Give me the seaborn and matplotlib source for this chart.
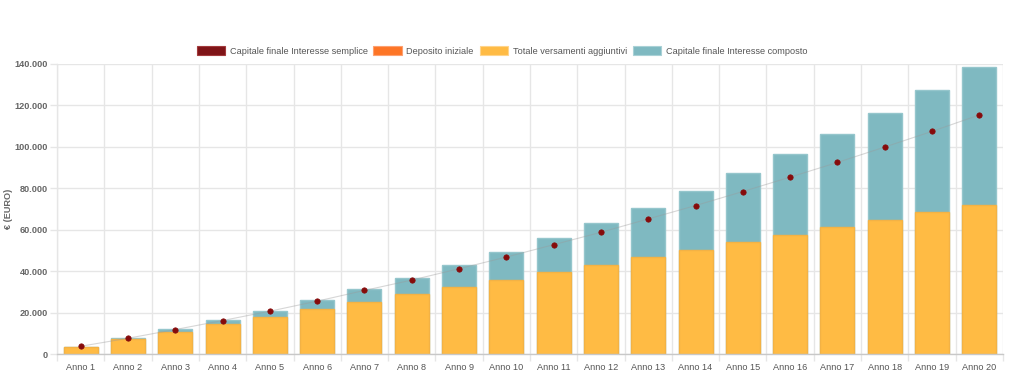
import matplotlib
matplotlib.use("Agg")
import matplotlib.pyplot as plt
from matplotlib.patches import Patch
from matplotlib.ticker import FuncFormatter
import numpy as np
import pandas as pd
import seaborn as sns

# ---- data ----
anni = ["Anno 1", "Anno 2", "Anno 3", "Anno 4", "Anno 5", "Anno 6", "Anno 7",
        "Anno 8", "Anno 9", "Anno 10", "Anno 11", "Anno 12", "Anno 13", "Anno 14",
        "Anno 15", "Anno 16", "Anno 17", "Anno 18", "Anno 19", "Anno 20"]
deposito_iniziale = [0, 0, 0, 0, 0, 0, 0, 0, 0, 0, 0, 0, 0, 0, 0, 0, 0, 0, 0, 0]
versamenti_aggiuntivi = [3600, 7200, 10800, 14400, 18000, 21600, 25200, 28800, 32400, 36000,
                         39600, 43200, 46800, 50400, 54000, 57600, 61200, 64800, 68400, 72000]
interesse_composto = [3700, 7700, 12030, 16360, 21020, 26000, 31420, 36900, 42820, 49070,
                      55810, 63030, 70580, 78570, 87090, 96230, 105850, 115960, 127130, 138340]
interesse_semplice = [3860, 7730, 11910, 16250, 20760, 25590, 30750, 35730, 41190, 46830,
                      52780, 58740, 65180, 71610, 78370, 85300, 92370, 99790, 107330, 115240]
legend_labels = ["Capitale finale Interesse semplice", "Deposito iniziale",
                 "Totale versamenti aggiuntivi", "Capitale finale Interesse composto"]
y_ticks = [0, 20000, 40000, 60000, 80000, 100000, 120000, 140000]

# ---- style ----
sns.set_theme(style="white")
plt.rcParams["font.family"] = ["Liberation Sans", "DejaVu Sans"]

c_red = "#7f1417"
c_dot = "#860b0b"
c_orange = "#fd7526"
c_yellow = "#ffbb44"
c_teal = "#7fb9c1"
grid_c = "#e6e6e6"
txt_c = "#666666"

df = pd.DataFrame({
    "anno": anni,
    "deposito": deposito_iniziale,
    "versamenti": versamenti_aggiuntivi,
    "composto": interesse_composto,
    "semplice": interesse_semplice,
})

W, H = 1011, 390
fig = plt.figure(figsize=(W / 100, H / 100), dpi=100)
ax = fig.add_axes([57 / W, 1 - 354.3 / H, (1003 - 57) / W, (354.3 - 63.5) / H])
ax.set_axisbelow(True)

# stacked look: full compound total first, contributions drawn over it
sns.barplot(data=df, x="anno", y="composto", color=c_teal, saturation=1, width=0.72,
            edgecolor="#95c6cc", linewidth=1, ax=ax, errorbar=None)
sns.barplot(data=df, x="anno", y="versamenti", color=c_yellow, saturation=1, width=0.72,
            edgecolor="#f3b245", linewidth=1, ax=ax, errorbar=None)
sns.barplot(data=df, x="anno", y="deposito", color=c_orange, saturation=1, width=0.72,
            linewidth=0, ax=ax, errorbar=None)

pos = np.arange(len(anni))
sns.lineplot(x=pos, y=df["semplice"], color="#9a9a9a", alpha=0.4, linewidth=0.8, ax=ax,
             zorder=4)
sns.scatterplot(x=pos, y=df["semplice"], color=c_dot, edgecolor=c_dot, s=15, ax=ax,
                zorder=5, linewidth=0.5)

ax.set_xlim(-0.5, len(anni) - 0.5)
ax.set_ylim(0, 140000)

# axes ticks
ax.set_yticks(y_ticks)
ax.yaxis.set_major_formatter(FuncFormatter(lambda v, p: f"{int(v):,}".replace(",", ".")))
ax.set_xticks(pos)
ax.set_xticklabels(anni)
ax.set_xticks(np.arange(-0.5, len(anni), 1), minor=True)

ax.yaxis.grid(True, color=grid_c, linewidth=1)
ax.xaxis.grid(False, which="major")
ax.xaxis.grid(True, which="minor", color=grid_c, linewidth=1)

ax.tick_params(axis="y", which="major", length=5, width=1, color=grid_c, pad=1.5,
               labelsize=6.6, labelcolor=txt_c, left=True)
for t in ax.get_yticklabels():
    t.set_fontweight("bold")
ax.tick_params(axis="x", which="major", length=0, pad=6.5, labelsize=6.6, labelcolor="#555555")
ax.tick_params(axis="x", which="minor", length=5, width=1, color=grid_c, bottom=True)

for s in ["top", "right"]:
    ax.spines[s].set_visible(False)
ax.spines["left"].set_color(grid_c)
ax.spines["left"].set_linewidth(1)
ax.spines["bottom"].set_color("#c8c8c8")
ax.spines["bottom"].set_linewidth(1)

ax.set_xlabel("")
ax.set_ylabel("€ (EURO)", fontsize=6.6, fontweight="bold", color=txt_c, labelpad=1)

# legend
handles = [
    Patch(facecolor=c_red, edgecolor="#a33a3c", linewidth=0.8),
    Patch(facecolor=c_orange, edgecolor="#fda070", linewidth=0.8),
    Patch(facecolor=c_yellow, edgecolor="#ffd48a", linewidth=0.8),
    Patch(facecolor=c_teal, edgecolor="#a9d1d6", linewidth=0.8),
]
fig.legend(handles, legend_labels, loc="center", bbox_to_anchor=(502 / W, 1 - 51 / H),
           ncol=4, frameon=False, fontsize=6.6, handlelength=3.1, handleheight=1.1,
           handletextpad=0.5, columnspacing=0.65, borderpad=0, labelcolor="#555555")

fig.savefig("out.png", dpi=100)
